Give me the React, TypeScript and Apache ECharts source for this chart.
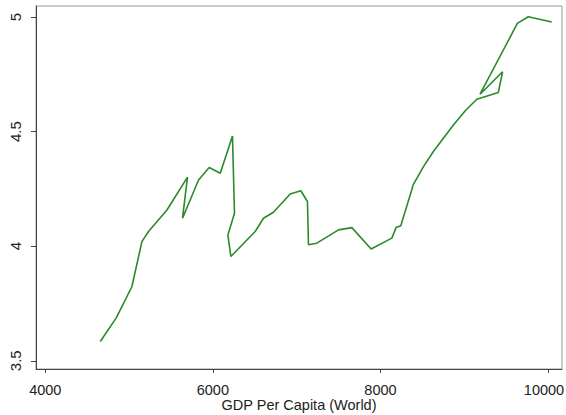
import React, { useEffect, useRef } from "react";
import * as echarts from "echarts";

const gdpPerCapita = [
  4656, 4847, 5034, 5153, 5232, 5452, 5697, 5638, 5829, 5956, 6088, 6234,
  6258, 6179, 6215, 6505, 6604, 6723, 6923, 7050, 7129, 7141, 7241, 7499,
  7659, 7889, 8136, 8187, 8243, 8374, 8390, 8510, 8632, 8751, 8871, 9010,
  9150, 9407, 9458, 9189, 9634, 9765, 10045,
];
const values = [
  3.584, 3.687, 3.824, 4.02, 4.064, 4.158, 4.301, 4.122, 4.289, 4.343, 4.318,
  4.481, 4.144, 4.049, 3.955, 4.064, 4.122, 4.148, 4.228, 4.242, 4.195, 4.006,
  4.013, 4.071, 4.081, 3.988, 4.035, 4.081, 4.089, 4.246, 4.267, 4.345, 4.413,
  4.471, 4.529, 4.59, 4.641, 4.671, 4.761, 4.663, 4.972, 5.001, 4.978,
];
const xTicks = [4000, 6000, 8000, 10000];
const yTicks = [3.5, 4, 4.5, 5];
const xTitle = "GDP Per Capita (World)";

export default function App() {
  const ref = useRef<HTMLDivElement>(null);
  useEffect(() => {
    if (!ref.current) return;
    const chart = echarts.init(ref.current, null, { renderer: "svg" });
    const font = "'Liberation Sans', Arial, sans-serif";
    const lastX = xTicks[xTicks.length - 1];
    chart.setOption({
      animation: false,
      backgroundColor: "#ffffff",
      grid: {
        left: 36,
        top: 6,
        right: 4,
        bottom: 46,
        containLabel: false,
        outerBoundsMode: "none",
        show: true,
        borderColor: "#999999",
        borderWidth: 1,
      },
      xAxis: {
        type: "value",
        min: 3889,
        max: 10167,
        name: xTitle,
        nameLocation: "middle",
        nameGap: 36,
        nameMoveOverlap: false,
        nameTextStyle: {
          fontFamily: font,
          fontSize: 14.5,
          color: "#222",
          verticalAlign: "middle",
        },
        axisLine: { show: true, onZero: false, lineStyle: { color: "#444", width: 1 } },
        axisTick: { show: true, length: 4, customValues: xTicks, lineStyle: { color: "#444" } },
        axisLabel: {
          customValues: xTicks,
          fontFamily: font,
          fontSize: 14.5,
          color: "#222",
          margin: 13,
          formatter: (v: number) => (v === lastX ? `{r|${v}}` : String(v)),
          rich: {
            r: { fontFamily: font, fontSize: 14.5, color: "#222", padding: [0, 8, 0, 0] },
          },
        },
        splitLine: { show: false },
      },
      yAxis: {
        type: "value",
        min: 3.464,
        max: 5.048,
        axisLine: { show: true, onZero: false, lineStyle: { color: "#444", width: 1 } },
        axisTick: { show: true, length: 5, customValues: yTicks, lineStyle: { color: "#444" } },
        axisLabel: {
          customValues: yTicks,
          rotate: 90,
          fontFamily: font,
          fontSize: 15,
          color: "#222",
          margin: 13,
          formatter: (v: number) => String(v),
        },
        splitLine: { show: false },
      },
      series: [
        {
          type: "line",
          data: gdpPerCapita.map((g, i) => [g, values[i]]),
          showSymbol: false,
          symbol: "none",
          lineStyle: { color: "#2a8a2a", width: 1.6 },
          silent: true,
        },
      ],
    });
    return () => chart.dispose();
  }, []);
  return (
    <div
      ref={ref}
      style={{ position: "fixed", left: 0, top: 0, width: 566, height: 415 }}
    />
  );
}
